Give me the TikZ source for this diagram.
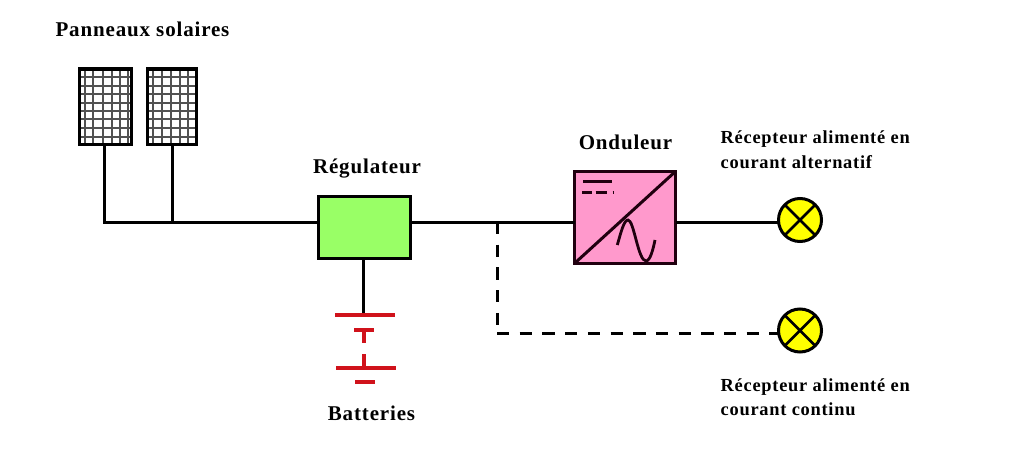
\documentclass[tikz,border=0pt]{standalone}
\usepackage{fontspec}
\setmainfont{Liberation Serif}[LetterSpace=4]
\definecolor{pv}{HTML}{99FF66}
\definecolor{ond}{HTML}{FF99CC}
\definecolor{lampe}{HTML}{FFFF00}
\definecolor{batt}{HTML}{D0121B}
\definecolor{encre}{HTML}{20000F}
\tikzset{
 x=1pt,y=-1pt,
 fil/.style={line width=3pt,black},
 pointille/.style={line width=3pt,black,dash pattern=on 12.3pt off 10.4pt},
 panneau/.style={draw=black,line width=3.4pt,fill=white,inner sep=0pt,outer sep=0pt,minimum height=75.5pt},
 grille/.style={line width=2pt,black!68},
 lamp/.style={circle,draw=black,line width=3pt,fill=lampe,inner sep=0pt,outer sep=0pt,minimum size=43pt},
 croix/.style={line width=2.7pt,black},
 plaque/.style={line width=4pt,batt},
 petite/.style={line width=3.2pt,batt},
 titre/.style={font=\bfseries\fontsize{21}{24}\selectfont,text=black,inner sep=0pt},
 legende/.style={font=\bfseries\fontsize{18.4}{24.5}\selectfont,text=black,inner sep=0pt,align=left,anchor=north west},
 symbole/.style={line width=2.6pt,encre},
}
\begin{document}
\begin{tikzpicture}
\useasboundingbox (0,0) rectangle (1024,449);
\fill[white] (0,0) rectangle (1024,449);
% panneaux
\node[panneau,minimum width=52pt] (p1) at (105.25,106.75) {};
\node[panneau,minimum width=49pt] (p2) at (172.25,106.75) {};
\foreach \x in {85,93,103,112,120,128} \draw[grille] (\x,68) -- (\x,145);
\foreach \x in {153,162,171,180,188} \draw[grille] (\x,68) -- (\x,145);
\foreach \y in {77,86,94,103,111,119,128,137} {
  \draw[grille] (78,\y) -- (132,\y);
  \draw[grille] (147,\y) -- (197,\y);
}
\node[panneau,minimum width=52pt,fill=none] at (105.25,106.75) {};
\node[panneau,minimum width=49pt,fill=none] at (172.25,106.75) {};
% boites
\node[draw=black,line width=3.2pt,fill=pv,inner sep=0pt,outer sep=0pt,minimum width=92pt,minimum height=62pt] (reg) at (364.5,227.5) {};
\node[draw=encre,line width=3.6pt,fill=ond,inner sep=0pt,outer sep=0pt,minimum width=101pt,minimum height=92pt] (ond) at (625,217.4) {};
\node[lamp] (l1) at (800,220) {};
\node[lamp] (l2) at (800,330.5) {};
\draw[croix] (l1.north west) -- (l1.south east) (l1.north east) -- (l1.south west);
\draw[croix] (l2.north west) -- (l2.south east) (l2.north east) -- (l2.south west);
% symbole onduleur
\draw[symbole,line width=3pt] (ond.south west) -- (ond.north east);
\draw[symbole] (583,181.5) -- (612,181.5);
\draw[symbole] (582,192.5) -- (592,192.5) (595.5,192.5) -- (607,192.5) (612.5,192.5) -- (614,192.5);
\draw[symbole,line width=2.8pt] (617.3,245) .. controls (621,232) and (624,220) .. (628,220) .. controls (634,220) and (638,261) .. (646,261) .. controls (650,261) and (653,250) .. (655,240);
% connexions
\coordinate (j0) at (104,222);
\coordinate (j1) at (172,222);
\coordinate (j2) at (497,222);
\coordinate (c1) at (497,325);
\coordinate (c2) at (497,333);
\coordinate (e1) at (790,222);
\coordinate (e2) at (790,333);
\draw[fil] (j0 |- p1.south) -- (j0) -- (j0 -| reg.west);
\draw[fil] (j1 |- p2.south) -- (j1);
\draw[fil] (j2 -| reg.east) -- (j2 -| ond.west);
\draw[fil] (e1 -| ond.east) -- (e1 -| l1.west);
\draw[pointille] (j2) -- (c1);
\draw[pointille] (c2) -- (e2 -| l2.west);
% batteries
\coordinate (b1) at (363,315);
\draw[fil] (b1 |- reg.south) -- (b1);
\draw[plaque] (335,315) -- (395,315);
\draw[petite] (354,330) -- (374,330);
\draw[petite] (364,330) -- (364,343);
\draw[petite] (364,354) -- (364,368);
\draw[plaque] (336,368) -- (396,368);
\draw[petite] (355,382) -- (375,382);
% textes
\node[titre] (t1) at (142.5,29) {Panneaux solaires};
\node[titre] (t2) at (367,168.5) {Régulateur};
\node[titre] (t3) at (625.5,142.5) {Onduleur};
\node[titre] (t4) at (371.5,413) {Batteries};
\node[legende] (t5) at (720.5,131) {Récepteur alimenté en\\courant alternatif};
\node[legende] (t6) at (720.5,378.5) {Récepteur alimenté en\\courant continu};
\end{tikzpicture}
\end{document}
